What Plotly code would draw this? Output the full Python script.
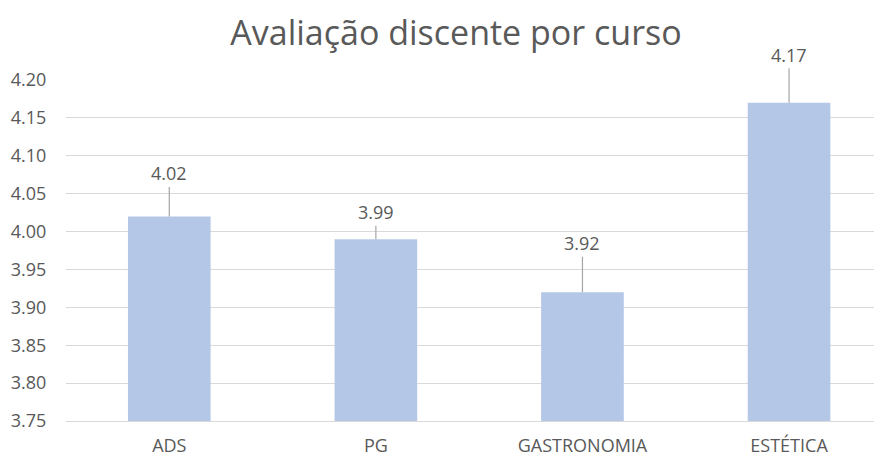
import plotly.graph_objects as go

cursos = ["ADS", "PG", "GASTRONOMIA", "ESTÉTICA"]
notas = [4.02, 3.99, 3.92, 4.17]
y_ticks = [3.75, 3.80, 3.85, 3.90, 3.95, 4.00, 4.05, 4.10, 4.15, 4.20]

# pixel offsets for the data labels (leader lines)
label_offsets = [-43, -27, -49, -48]

cinza = "#595959"

fig = go.Figure(go.Bar(
    x=cursos, y=notas,
    marker=dict(color="#B4C7E7", line=dict(width=0)),
    width=0.4,
    cliponaxis=False,
))

for c, v, off in zip(cursos, notas, label_offsets):
    fig.add_annotation(x=c, y=v, text=f"{v:.2f}", showarrow=True,
                       ax=0, ay=off, arrowhead=0, arrowwidth=1.2,
                       arrowcolor="#A6A6A6", standoff=0,
                       font=dict(family="Open Sans", size=18, color=cinza))

# the page body adds an 8px offset, so the figure is slightly smaller
fig.update_layout(
    width=874, height=449,
    margin=dict(l=58, r=0, t=72, b=34),
    paper_bgcolor="white", plot_bgcolor="white",
    title=dict(text="Avaliação discente por curso", x=0.5126, xanchor="center",
               y=0.945, yanchor="middle",
               font=dict(family="Open Sans", size=34, color=cinza)),
    showlegend=False,
)
fig.update_yaxes(range=[3.75, 4.20], tickvals=y_ticks, tickformat=".2f",
                 showgrid=True, gridcolor="#D9D9D9", gridwidth=1,
                 zeroline=False, showline=False,
                 ticks="outside", ticklen=15, tickcolor="white",
                 tickfont=dict(family="Open Sans", size=18, color=cinza))
fig.update_xaxes(range=[-0.5, 3.45], showline=True, linecolor="#D9D9D9",
                 linewidth=1, ticks="outside", ticklen=8, tickcolor="white",
                 tickfont=dict(family="Open Sans", size=18, color=cinza))

fig.write_html("out.html")
